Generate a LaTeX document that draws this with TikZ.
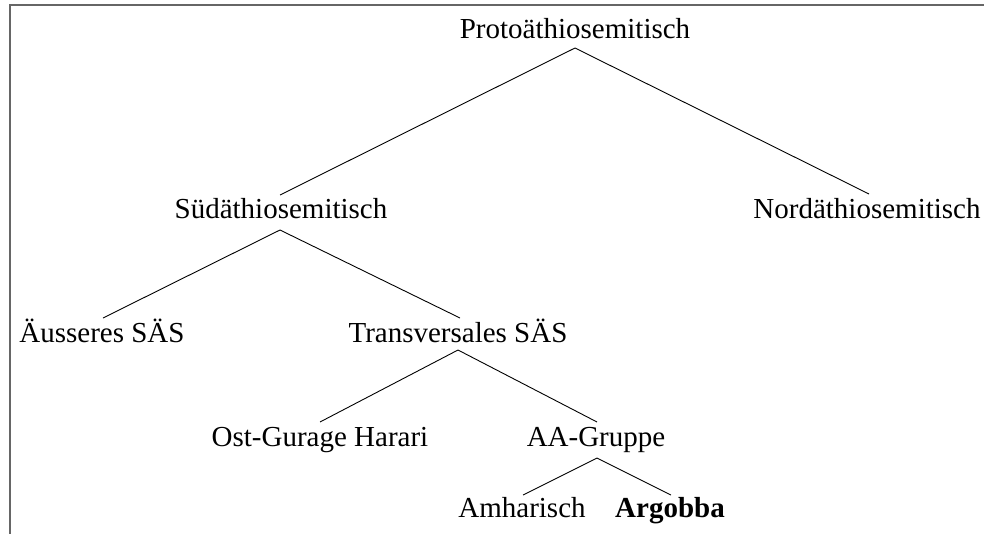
\documentclass[tikz,border=0pt]{standalone}
\usepackage{fontspec}
\setmainfont{Liberation Serif}
\begin{document}
\begin{tikzpicture}[x=1pt,y=-1pt,
  lbl/.style={anchor=base,inner sep=0pt,font=\fontsize{29}{35}\selectfont},
  edge/.style={line width=0.9pt,black},
  frame/.style={line width=2pt,draw=black!60}]
\useasboundingbox (0,0) rectangle (984,533);
\draw[frame] (9.5,540) -- (9.5,5) -- (990,5);
% nodes
\node[lbl] (pro) at (575,38) {Protoäthiosemitisch};
\node[lbl] (sud) at (281,218) {Südäthiosemitisch};
\node[lbl] (nord) at (867,218) {Nordäthiosemitisch};
\node[lbl] (aus) at (102,342) {Äusseres SÄS};
\node[lbl] (tra) at (458,342) {Transversales SÄS};
\node[lbl] (ost) at (320,446) {Ost-Gurage Harari};
\node[lbl] (aa) at (596,446) {AA-Gruppe};
\node[lbl] (amh) at (522,517) {Amharisch};
\node[lbl] (arg) at (670,517) {\textbf{Argobba}};
% edge anchors
\coordinate (proS) at (575,48);
\coordinate (sudN) at (280,195);
\coordinate (nordN) at (869,194);
\coordinate (sudS) at (280,230);
\coordinate (ausN) at (103,318);
\coordinate (traN) at (460,318);
\coordinate (traS) at (458,350);
\coordinate (ostN) at (320,422);
\coordinate (aaN) at (597,422);
\coordinate (aaS) at (597,458);
\coordinate (amhN) at (523,495);
\coordinate (argN) at (671,495);
\draw[edge] (proS) -- (sudN);
\draw[edge] (proS) -- (nordN);
\draw[edge] (sudS) -- (ausN);
\draw[edge] (sudS) -- (traN);
\draw[edge] (traS) -- (ostN);
\draw[edge] (traS) -- (aaN);
\draw[edge] (aaS) -- (amhN);
\draw[edge] (aaS) -- (argN);
\end{tikzpicture}
\end{document}
